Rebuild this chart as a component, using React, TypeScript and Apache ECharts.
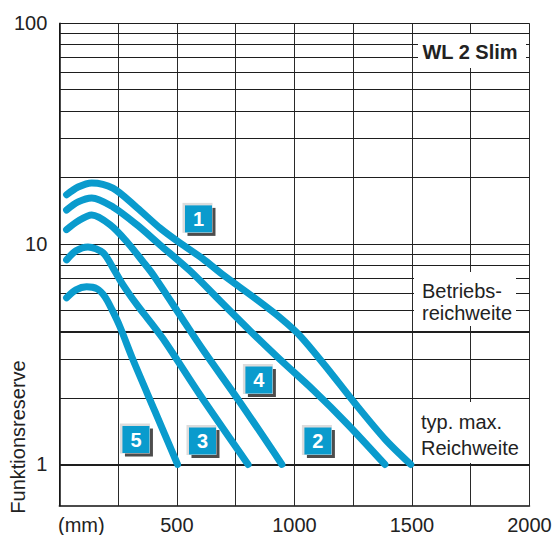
import React, { useEffect, useRef } from "react";
import * as echarts from "echarts";

// ---- axes ----
const xMin = 0;
const xMax = 2000;
const xStep = 250;
const xLabelValues = [500, 1000, 1500, 2000];
const xUnitLabel = "(mm)";
const yMin = 0.65;
const yMax = 100;
const yLabelValues = [1, 10, 100];
const yAxisTitle = "Funktionsreserve";

// horizontal grid lines (log minor lines)
const gridValues = [2, 3, 4, 5, 6, 7, 8, 9, 10, 20, 30, 40, 50, 60, 70, 80, 90, 100, 1];
const thickGridValues = [1, 4];

// ---- curves (distance mm, Funktionsreserve) ----
const curve1X = [31, 80, 138, 228, 330, 428, 513, 611, 696, 841, 939, 1024, 1130, 1258, 1386, 1495];
const curve1Y = [16.7, 18.1, 18.9, 17.9, 14.6, 11.8, 10.1, 8.55, 7.24, 5.58, 4.63, 3.83, 2.81, 1.89, 1.3, 1.0];
const curve2X = [31, 80, 138, 228, 330, 428, 556, 696, 811, 939, 1079, 1224, 1385];
const curve2Y = [14.25, 15.5, 16.15, 14.7, 12.2, 9.9, 7.55, 5.35, 4.04, 2.99, 2.18, 1.53, 1.0];
const curve4X = [31, 80, 138, 216, 288, 356, 399, 526, 611, 769, 947];
const curve4Y = [11.6, 12.7, 13.5, 12.2, 10.2, 8.3, 7.24, 4.53, 3.31, 1.91, 1.0];
const curve3X = [31, 71, 122, 186, 228, 271, 330, 386, 450, 598, 803];
const curve3Y = [8.46, 9.3, 9.69, 9.11, 7.79, 6.52, 5.3, 4.44, 3.6, 2.07, 1.0];
const curve5X = [31, 71, 116, 160, 194, 224, 258, 313, 407, 503];
const curve5Y = [5.7, 6.19, 6.39, 6.26, 5.76, 5.03, 4.21, 2.99, 1.74, 1.0];

const curveNames = ["1", "2", "4", "3", "5"];
const curveXs = [curve1X, curve2X, curve4X, curve3X, curve5X];
const curveYs = [curve1Y, curve2Y, curve4Y, curve3Y, curve5Y];

// ---- number badges ----
const badgeLabels = ["1", "2", "3", "4", "5"];
const badgeX = [592, 1100, 609, 849, 326];
const badgeY = [12.98, 1.277, 1.277, 2.414, 1.297];

// ---- annotation texts ----
const titleText = "WL 2 Slim";
const operatingRangeText = ["Betriebs-", "reichweite"];
const maxRangeText = ["typ. max.", "Reichweite"];

const BLUE = "#0a9bcd";
const FONT = "'Liberation Sans', Arial, Helvetica, sans-serif";
const INK = "#222";

export default function App() {
  const ref = useRef<HTMLDivElement>(null);

  useEffect(() => {
    if (!ref.current) return;
    const chart = echarts.init(ref.current, undefined, { renderer: "svg" });

    const curveSeries = curveNames.map((name, i) => ({
      name,
      type: "line",
      data: curveXs[i].map((x, j) => [x, curveYs[i][j]]),
      smooth: 0.3,
      showSymbol: false,
      symbol: "none",
      z: 5,
      lineStyle: { color: BLUE, width: 7, cap: "round", join: "round", opacity: 1 },
    }));

    const badgeData = badgeLabels.map((n, i) => ({ name: n, value: [badgeX[i], badgeY[i]] }));

    const option: any = {
      animation: false,
      backgroundColor: "#fff",
      grid: { left: 59.3, right: 26.5, top: 23.3, bottom: 29.3 },
      xAxis: {
        type: "value",
        min: xMin,
        max: xMax,
        interval: xStep,
        axisLine: { show: true, onZero: false, lineStyle: { color: "#111", width: 1.5 } },
        axisTick: { show: false },
        axisLabel: {
          margin: 9,
          fontSize: 20,
          fontFamily: FONT,
          color: INK,
          formatter: (v: number) => (xLabelValues.includes(Math.round(v)) ? String(Math.round(v)) : ""),
        },
        splitLine: { show: true, lineStyle: { color: "#2a2a2a", width: 1 } },
      },
      yAxis: {
        type: "log",
        logBase: 10,
        min: yMin,
        max: yMax,
        axisLine: { show: true, lineStyle: { color: "#111", width: 1.5 } },
        axisTick: { show: false },
        axisLabel: {
          margin: 12,
          fontSize: 20,
          fontFamily: FONT,
          color: INK,
          formatter: (v: number) => {
            const r = Math.round(v);
            return Math.abs(v - r) < 1e-6 && yLabelValues.includes(r) ? String(r) : "";
          },
        },
        splitLine: { show: false },
      },
      series: [
        {
          name: "grid",
          type: "line",
          data: [],
          z: 1,
          silent: true,
          markLine: {
            silent: true,
            symbol: ["none", "none"],
            label: { show: false },
            data: gridValues.map((v) => ({
              yAxis: v,
              lineStyle: {
                type: "solid",
                color: "#1e1e1e",
                width: thickGridValues.includes(v) ? 2 : 1,
              },
            })),
          },
        },
        ...curveSeries,
        {
          name: "badgeShadow",
          type: "scatter",
          data: badgeData,
          symbol: "rect",
          symbolSize: 28,
          symbolOffset: [3, 3],
          z: 6,
          silent: true,
          itemStyle: { color: "#4d4d4d", opacity: 1 },
        },
        {
          name: "badgeLight",
          type: "scatter",
          data: badgeData,
          symbol: "rect",
          symbolSize: 30,
          symbolOffset: [-1, -1],
          z: 6,
          silent: true,
          itemStyle: { color: "#dcdcdc", opacity: 1 },
        },
        {
          name: "badges",
          type: "scatter",
          data: badgeData,
          symbol: "rect",
          symbolSize: 27,
          z: 7,
          silent: true,
          itemStyle: { color: BLUE, opacity: 1 },
          label: {
            show: true,
            position: "inside",
            formatter: "{b}",
            color: "#fff",
            fontSize: 20,
            fontWeight: "bold",
            fontFamily: FONT,
          },
        },
      ],
      graphic: [
        {
          type: "text",
          z: 100,
          x: 18,
          y: 437,
          rotation: Math.PI / 2,
          style: {
            text: yAxisTitle,
            x: 0,
            y: 0,
            align: "center",
            verticalAlign: "middle",
            fontSize: 20,
            fontFamily: FONT,
            fill: INK,
          },
        },
        {
          type: "text",
          z: 100,
          x: 58,
          y: 525,
          style: {
            text: xUnitLabel,
            align: "left",
            verticalAlign: "middle",
            fontSize: 20,
            fontFamily: FONT,
            fill: INK,
          },
        },
        {
          type: "rect",
          z: 90,
          shape: { x: 418, y: 34, width: 108, height: 34 },
          style: { fill: "#fff" },
        },
        {
          type: "text",
          z: 100,
          x: 470,
          y: 52,
          style: {
            text: titleText,
            align: "center",
            verticalAlign: "middle",
            fontSize: 20,
            fontWeight: "bold",
            fontFamily: FONT,
            fill: INK,
          },
        },
        {
          type: "rect",
          z: 90,
          shape: { x: 414, y: 272, width: 102, height: 54 },
          style: { fill: "#fff" },
        },
        {
          type: "text",
          z: 100,
          x: 422,
          y: 291,
          style: {
            text: operatingRangeText[0],
            align: "left",
            verticalAlign: "middle",
            fontSize: 20,
            fontFamily: FONT,
            fill: INK,
          },
        },
        {
          type: "text",
          z: 100,
          x: 422,
          y: 313,
          style: {
            text: operatingRangeText[1],
            align: "left",
            verticalAlign: "middle",
            fontSize: 20,
            fontFamily: FONT,
            fill: INK,
          },
        },
        {
          type: "rect",
          z: 90,
          shape: { x: 414, y: 402, width: 104, height: 61 },
          style: { fill: "#fff" },
        },
        {
          type: "text",
          z: 100,
          x: 421,
          y: 422,
          style: {
            text: maxRangeText[0],
            align: "left",
            verticalAlign: "middle",
            fontSize: 20,
            fontFamily: FONT,
            fill: INK,
          },
        },
        {
          type: "text",
          z: 100,
          x: 421,
          y: 448,
          style: {
            text: maxRangeText[1],
            align: "left",
            verticalAlign: "middle",
            fontSize: 20,
            fontFamily: FONT,
            fill: INK,
          },
        },
      ],
    };

    chart.setOption(option);
    return () => chart.dispose();
  }, []);

  return (
    <div
      ref={ref}
      style={{ position: "fixed", left: 0, top: 0, width: 556, height: 535, background: "#fff" }}
    />
  );
}
